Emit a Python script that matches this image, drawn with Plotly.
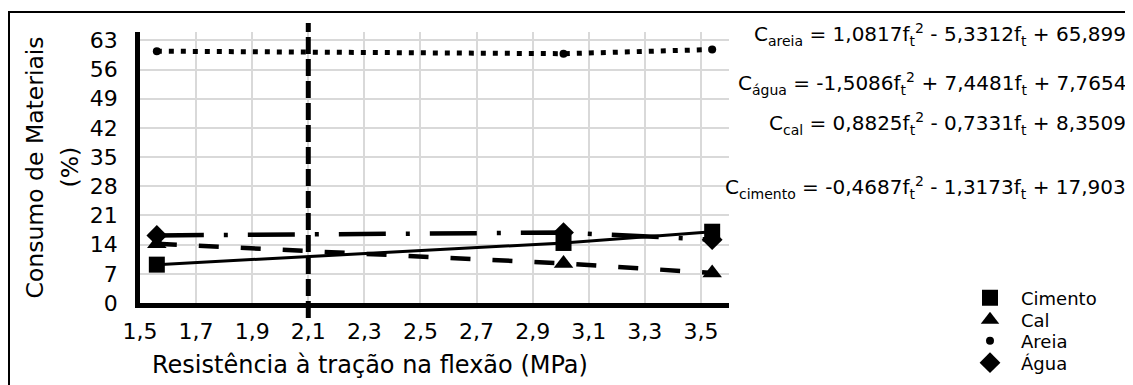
import plotly.graph_objects as go

# ---- data ----
x_cimento = [1.56, 3.01, 3.54]
y_cimento = [9.2, 14.4, 17.1]
x_cal = [1.56, 3.01, 3.54]
y_cal = [14.2, 9.5, 7.2]
x_areia = [1.56, 3.01, 3.54]
y_areia = [60.4, 59.8, 60.8]
x_agua = [1.56, 3.01, 3.54]
y_agua = [16.2, 16.9, 15.2]

x_tickvals = [1.5, 1.7, 1.9, 2.1, 2.3, 2.5, 2.7, 2.9, 3.1, 3.3, 3.5]
x_ticktext = ["1,5", "1,7", "1,9", "2,1", "2,3", "2,5", "2,7", "2,9", "3,1", "3,3", "3,5"]
y_tickvals = [0, 7, 14, 21, 28, 35, 42, 49, 56, 63]
ft_ref = 2.1

series_names = ["Cimento", "Cal", "Areia", "Água"]
equations = [
    "C<sub>areia</sub> = 1,0817f<sub>t</sub><sup>2</sup> - 5,3312f<sub>t</sub> + 65,899",
    "C<sub>água</sub> = -1,5086f<sub>t</sub><sup>2</sup> + 7,4481f<sub>t</sub> + 7,7654",
    "C<sub>cal</sub> = 0,8825f<sub>t</sub><sup>2</sup> - 0,7331f<sub>t</sub> + 8,3509",
    "C<sub>cimento</sub> = -0,4687f<sub>t</sub><sup>2</sup> - 1,3173f<sub>t</sub> + 17,903",
]

FONT = "DejaVu Sans"
OFF = 8  # page body margin
W, H = 1133 - OFF, 385 - OFF
# plot area in page pixels: left 140, right 729, top 32, bottom 303
L = 140 - OFF
T = 32 - OFF
R = W - (729 - OFF)
B = H - (303 - OFF)
pw, ph = W - L - R, H - T - B

def px_x(p):  # page pixel -> paper
    return (p - OFF - L) / pw

def px_y(p):
    return (H - B - (p - OFF)) / ph

fig = go.Figure()

# lines (no legend)
fig.add_trace(go.Scatter(x=x_agua, y=y_agua, mode="lines", showlegend=False,
                         line=dict(color="black", width=4.5, dash="47px,20px,4px,20px")))
fig.add_trace(go.Scatter(x=x_cal, y=y_cal, mode="lines", showlegend=False,
                         line=dict(color="black", width=4.5, dash="20px,22px")))
fig.add_trace(go.Scatter(x=x_areia, y=y_areia, mode="lines", showlegend=False,
                         line=dict(color="black", width=5, dash="5px,7px")))
fig.add_trace(go.Scatter(x=x_cimento, y=y_cimento, mode="lines", showlegend=False,
                         line=dict(color="black", width=3)))

# markers (with legends)
marker_specs = [
    (x_cimento, y_cimento, "square", 16, "legend"),
    (x_cal, y_cal, "triangle-up", 17, "legend2"),
    (x_areia, y_areia, "circle", 8, "legend3"),
    (x_agua, y_agua, "diamond", 16, "legend4"),
]
for name, (xs, ys, sym, sz, lg) in zip(series_names, marker_specs):
    fig.add_trace(go.Scatter(x=xs, y=ys, mode="markers", name=name, legend=lg,
                             marker=dict(color="black", symbol=sym, size=sz)))

# reference vertical line at 2.1 MPa
fig.add_shape(type="line", xref="x", yref="paper", x0=ft_ref, x1=ft_ref,
              y0=px_y(318), y1=px_y(23), line=dict(color="black", width=5, dash="17px,5px"))

# outer border
fig.add_shape(type="rect", xref="paper", yref="paper", x0=px_x(9), x1=px_x(1200),
              y0=px_y(420), y1=px_y(12), line=dict(color="black", width=2))

# equations
eq_y = [35, 83, 124, 187]
for eq, yy in zip(equations, eq_y):
    fig.add_annotation(text=eq, xref="paper", yref="paper", x=px_x(1128), y=px_y(yy),
                       xanchor="right", yanchor="middle", showarrow=False,
                       font=dict(family=FONT, size=20, color="black"))

# axis titles
fig.add_annotation(text="Consumo de Materiais", xref="paper", yref="paper",
                   x=px_x(34), y=0.5, textangle=-90, showarrow=False,
                   xanchor="center", yanchor="middle",
                   font=dict(family=FONT, size=23.5, color="black"))
fig.add_annotation(text="(%)", xref="paper", yref="paper",
                   x=px_x(69), y=0.5, textangle=-90, showarrow=False,
                   xanchor="center", yanchor="middle",
                   font=dict(family=FONT, size=23.5, color="black"))
fig.add_annotation(text="Resistência à tração na flexão (MPa)", xref="paper", yref="paper",
                   x=px_x(370), y=px_y(365), showarrow=False,
                   xanchor="center", yanchor="middle",
                   font=dict(family=FONT, size=24, color="black"))

legend_common = dict(xanchor="left", yanchor="middle", bgcolor="rgba(0,0,0,0)",
                     font=dict(family=FONT, size=18, color="black"), itemwidth=52,
                     x=px_x(959))
leg_y = [298, 320, 341, 363]

fig.update_layout(
    width=W, height=H,
    margin=dict(l=L, r=R, t=T, b=B, autoexpand=False),
    paper_bgcolor="white", plot_bgcolor="white",
    font=dict(family=FONT, size=20, color="black"),
    xaxis=dict(range=[1.5, 3.6], tickvals=x_tickvals, ticktext=x_ticktext,
               showgrid=True, gridcolor="#d9d9d9", gridwidth=1.5,
               showline=True, linecolor="black", linewidth=4.5,
               zeroline=False, ticks="", ticklabelstandoff=5, automargin=False,
               tickfont=dict(family=FONT, size=22, color="black")),
    yaxis=dict(range=[0, 65], tickvals=y_tickvals,
               showgrid=True, gridcolor="#d9d9d9", gridwidth=1.5,
               showline=True, linecolor="black", linewidth=4.5,
               zeroline=False, ticks="", ticklabelstandoff=13, automargin=False,
               tickfont=dict(family=FONT, size=22, color="black")),
    legend=dict(y=px_y(leg_y[0]), **legend_common),
    legend2=dict(y=px_y(leg_y[1]), **legend_common),
    legend3=dict(y=px_y(leg_y[2]), **legend_common),
    legend4=dict(y=px_y(leg_y[3]), **legend_common),
)

fig.write_html("out.html")
